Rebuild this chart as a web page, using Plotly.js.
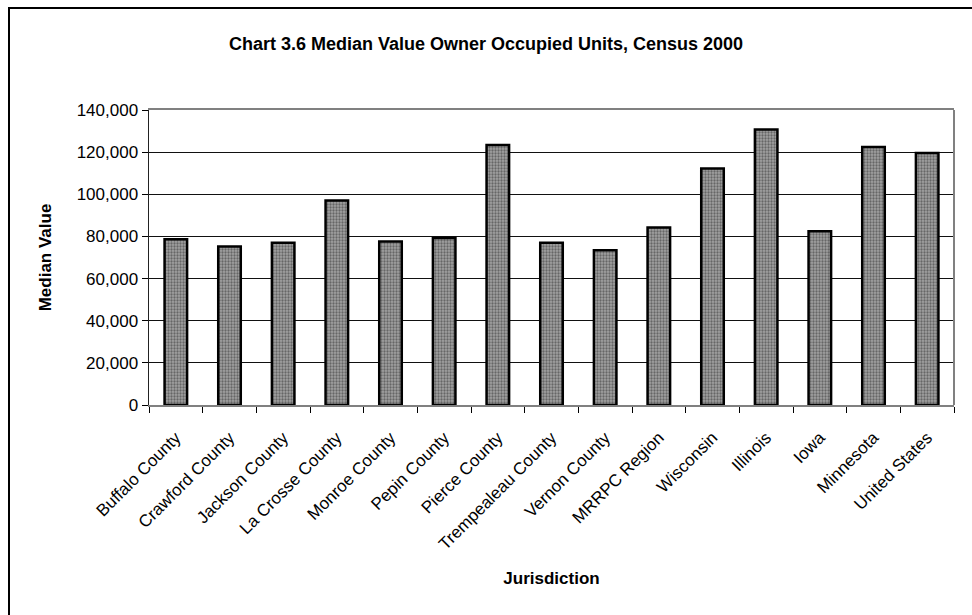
<!DOCTYPE html>
<html>
<head>
<meta charset="utf-8">
<script src="https://cdn.plot.ly/plotly-3.0.1.min.js"></script>
<style>
  html, body { margin: 0; padding: 0; background: #fff; }
  #chart { width: 972px; height: 615px; }
</style>
</head>
<body>
<div id="chart"></div>
<script>
const jurisdictions = [
  "Buffalo County", "Crawford County", "Jackson County", "La Crosse County",
  "Monroe County", "Pepin County", "Pierce County", "Trempealeau County",
  "Vernon County", "MRRPC Region", "Wisconsin", "Illinois", "Iowa",
  "Minnesota", "United States"
];
const medianValues = [
  78700, 75200, 77000, 97000, 77600, 79300, 123400, 77000,
  73400, 84200, 112200, 130800, 82500, 122400, 119600
];
const yTickValues = [0, 20000, 40000, 60000, 80000, 100000, 120000, 140000];
const yTickLabels = ["0", "20,000", "40,000", "60,000", "80,000", "100,000", "120,000", "140,000"];

const W = 972, H = 615;
const M = { l: 149, r: 18, t: 110, b: 210 };
const pw = W - M.l - M.r, ph = H - M.t - M.b;
const px = v => (v - M.l) / pw;
const py = v => 1 - (v - M.t) / ph;

const FONT = "'Liberation Sans Narrow', 'Arial Narrow', 'Liberation Sans', Arial, sans-serif";

const trace = {
  type: "bar",
  x: jurisdictions,
  y: medianValues,
  width: 0.42,
  marker: {
    color: "#8c8c8c",
    line: { color: "#000", width: 2.5 },
    pattern: { shape: ".", bgcolor: "#a2a2a2", fgcolor: "#666666", size: 3, solidity: 0.45 }
  },
  hoverinfo: "x+y"
};

const layout = {
  width: W, height: H,
  margin: M,
  paper_bgcolor: "#fff",
  plot_bgcolor: "#fff",
  showlegend: false,
  font: { family: FONT, size: 16, color: "#000" },
  title: {
    text: "<b>Chart 3.6 Median Value Owner Occupied Units, Census 2000</b>",
    font: { family: FONT, size: 18, color: "#000" },
    x: 0.5, xref: "container", xanchor: "center",
    y: 1 - 44 / H, yref: "container", yanchor: "middle"
  },
  xaxis: {
    type: "category",
    tickangle: -45,
    tickfont: { family: FONT, size: 17, color: "#000" },
    ticks: "outside", ticklen: 6, tickcolor: "#000", tickwidth: 1,
    tickson: "boundaries",
    ticklabelstandoff: 14,
    showline: true, linecolor: "#808080", linewidth: 2, mirror: true,
    showgrid: false,
    title: { text: "<b>Jurisdiction</b>", font: { family: FONT, size: 17, color: "#000" }, standoff: 20 },
    automargin: false
  },
  yaxis: {
    range: [0, 140000],
    tickvals: yTickValues,
    ticktext: yTickLabels,
    tickfont: { family: FONT, size: 17, color: "#000" },
    ticks: "outside", ticklen: 6, tickcolor: "#000", tickwidth: 1,
    showline: true, linecolor: "#222", linewidth: 1.5,
    showgrid: true, gridcolor: "#111", gridwidth: 1,
    zeroline: false,
    title: { text: "<b>Median Value</b>", font: { family: FONT, size: 17, color: "#000" }, standoff: 20 },
    automargin: false
  },
  shapes: [
    { type: "line", xref: "paper", yref: "paper", x0: 1, x1: 1, y0: 0, y1: 1,
      line: { color: "#808080", width: 2 } },
    { type: "rect", xref: "paper", yref: "paper",
      x0: px(9), x1: px(W + 20), y0: py(H + 20), y1: py(8),
      line: { color: "#000", width: 2 }, fillcolor: "rgba(0,0,0,0)" }
  ]
};

Plotly.newPlot("chart", [trace], layout, { displayModeBar: false, staticPlot: true });
</script>
</body>
</html>
